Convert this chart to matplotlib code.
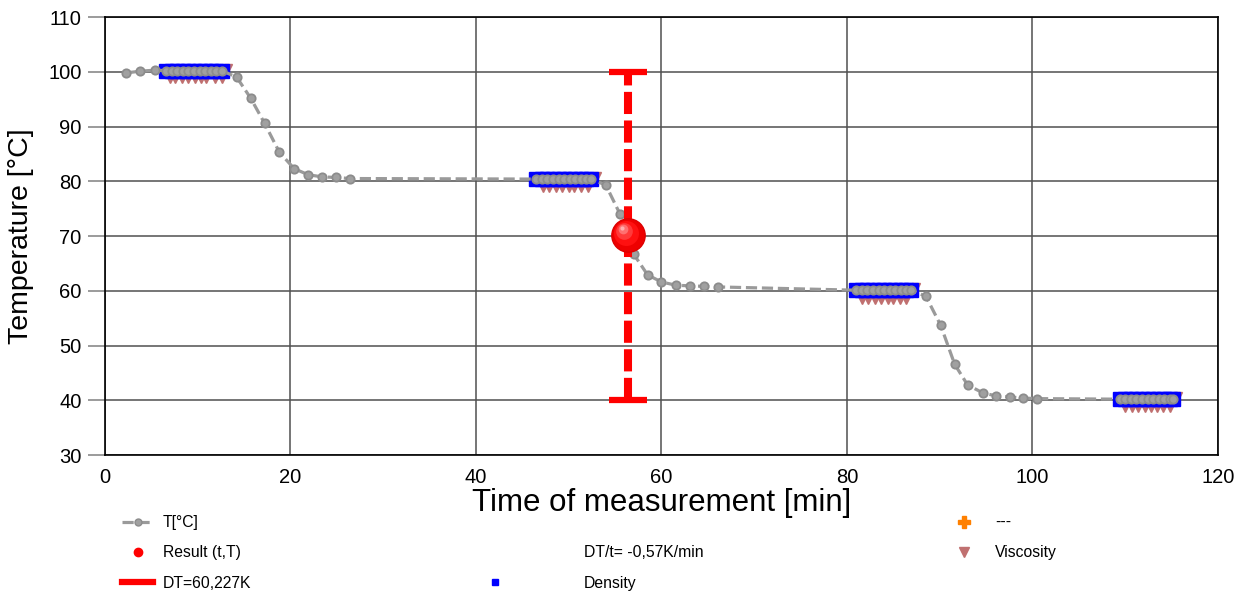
import matplotlib
matplotlib.use("Agg")
import matplotlib.pyplot as plt
from matplotlib.lines import Line2D
from matplotlib.transforms import offset_copy

plt.rcParams['font.family'] = ['Liberation Sans', 'DejaVu Sans']

# temperature curve (time in min, T in °C)
t_time = [2.3, 3.8, 5.4,
          6.6, 7.2, 7.8, 8.4, 9.0, 9.6, 10.2, 10.8, 11.4, 12.0, 12.6,
          14.2, 15.7, 17.2, 18.8, 20.4, 21.9, 23.4, 24.9, 26.4,
          46.5, 47.1, 47.7, 48.3, 48.9, 49.5, 50.1, 50.7, 51.3, 51.9, 52.4,
          54.0, 55.5, 57.0, 58.5, 60.0, 61.6, 63.1, 64.6, 66.1,
          81.0, 81.6, 82.2, 82.8, 83.4, 84.0, 84.6, 85.2, 85.8, 86.4, 86.9,
          88.5, 90.1, 91.6, 93.0, 94.7, 96.1, 97.6, 99.0, 100.5,
          109.4, 110.0, 110.6, 111.2, 111.8, 112.4, 113.0, 113.6, 114.2, 114.8, 115.2]
t_temp = [99.8, 100.1, 100.3,
          100.2, 100.2, 100.2, 100.2, 100.2, 100.2, 100.2, 100.2, 100.2, 100.2, 100.2,
          99.0, 95.2, 90.6, 85.3, 82.3, 81.2, 80.8, 80.7, 80.5,
          80.4, 80.4, 80.4, 80.4, 80.4, 80.4, 80.4, 80.4, 80.4, 80.4, 80.4,
          79.3, 74.1, 66.7, 62.9, 61.6, 61.0, 60.9, 60.8, 60.7,
          60.1, 60.1, 60.1, 60.1, 60.1, 60.1, 60.1, 60.1, 60.1, 60.1, 60.1,
          59.0, 53.7, 46.6, 42.8, 41.3, 40.8, 40.6, 40.4, 40.3,
          40.2, 40.2, 40.2, 40.2, 40.2, 40.2, 40.2, 40.2, 40.2, 40.2, 40.2]

# density points (plateaus)
dens_time = [6.6, 7.2, 7.8, 8.4, 9.0, 9.6, 10.2, 10.8, 11.4, 12.0, 12.6,
             46.5, 47.1, 47.7, 48.3, 48.9, 49.5, 50.1, 50.7, 51.3, 51.9, 52.4,
             81.0, 81.6, 82.2, 82.8, 83.4, 84.0, 84.6, 85.2, 85.8, 86.4, 86.9,
             109.4, 110.0, 110.6, 111.2, 111.8, 112.4, 113.0, 113.6, 114.2, 114.8, 115.2]
dens_temp = [100.2] * 11 + [80.4] * 11 + [60.1] * 11 + [40.2] * 11

# viscosity points
visc_time = [7.0, 7.6, 8.3, 8.9, 9.7, 10.3, 10.9, 11.9, 12.6, 13.3,
             47.2, 47.9, 48.6, 49.3, 50.0, 50.6, 51.3, 52.1, 53.0,
             81.6, 82.3, 83.0, 83.7, 84.4, 85.0, 85.7, 86.4, 87.4,
             110.0, 110.7, 111.4, 112.1, 112.8, 113.4, 114.1, 114.8, 115.7]
visc_temp = [98.6] * 9 + [100.6] + [78.7] * 8 + [80.9] + [58.4] * 8 + [60.6] + [38.5] * 8 + [40.7]

# result
res_t = 56.4
res_T = 70.2
dt_low = 40.0
dt_high = 100.0

fig = plt.figure(figsize=(12.44, 5.93), dpi=100)
ax = fig.add_axes([0.0844, 0.2327, 0.8947, 0.7386])

ax.set_xlim(0, 120)
ax.set_ylim(30, 110)
ax.set_xticks(range(0, 121, 20))
ax.set_yticks(range(30, 111, 10))
ax.grid(True, color='#505050', lw=1.1, zorder=0)
ax.set_axisbelow(True)
ax.tick_params(axis='y', length=12, width=1.1, color='#808080', pad=5, labelsize=14.5)
ax.tick_params(axis='x', length=0, pad=9, labelsize=14.5)
for s in ax.spines.values():
    s.set_color('black')
    s.set_linewidth(1.2)

ax.set_xlabel('Time of measurement [min]', fontsize=22.5, labelpad=1)
ax.set_ylabel('Temperature [°C]', fontsize=20.5, labelpad=10)

# viscosity (behind density)
ax.plot(visc_time, visc_temp, ls='none', marker='v', ms=6, color='#c07070', zorder=2)
# density
ax.plot(dens_time, dens_temp, ls='none', marker='s', ms=10.5, color='#0000ff', zorder=3)
# temperature
ax.plot(t_time, t_temp, color='#9a9a9a', lw=2.3, dashes=(3.5, 1.5), marker='o', ms=6,
        mfc='#a0a0a0', mec='#8c8c8c', mew=1.3, zorder=4)

# DT bar
ax.plot([res_t, res_t], [dt_low, dt_high], color='#ff0000', lw=5.8, dashes=(2.75, 0.8),
        solid_capstyle='butt', dash_capstyle='butt', zorder=5)
ax.plot([res_t - 2.05, res_t + 2.05], [dt_high, dt_high], color='#ff0000', lw=4.5,
        solid_capstyle='butt', zorder=5)
ax.plot([res_t - 2.05, res_t + 2.05], [dt_low, dt_low], color='#ff0000', lw=4.5,
        solid_capstyle='butt', zorder=5)

# shiny result ball
ax.plot(res_t, res_T, 'o', ms=24, color='#ee0000', mec='#dd0000', zorder=6)
for size, col, dx, dy in [(18, '#ff1010', -1.5, 1.5), (12, '#ff3a3a', -3, 3),
                          (7, '#ff7070', -4, 4.5), (3, '#ffb0b0', -4.5, 5)]:
    tr = offset_copy(ax.transData, fig=fig, x=dx, y=dy, units='points')
    ax.plot(res_t, res_T, 'o', ms=size, color=col, mec='none', transform=tr, zorder=7)

# legend, three loose columns
blank = Line2D([], [], ls='none', marker='none')
h_T = Line2D([], [], color='#9a9a9a', lw=2.3, dashes=(3.5, 1.5), marker='o', ms=5,
             mfc='#a0a0a0', mec='#8c8c8c')
h_res = Line2D([], [], ls='none', marker='o', ms=6, color='#ff0000')
h_dt = Line2D([], [], color='#ff0000', lw=4.5)
h_dens = Line2D([], [], ls='none', marker='s', ms=5, color='#0000ff')
h_plus = Line2D([], [], ls='none', marker='P', ms=8, color='#ff8000')
h_visc = Line2D([], [], ls='none', marker='v', ms=7, color='#c07070')

common = dict(frameon=False, fontsize=11.3, loc='upper left', borderpad=0,
              labelspacing=0.98, handlelength=2.0, borderaxespad=0)
anchor_y = 1 - 515 / 593
fig.legend([h_T, h_res, h_dt], ['T[°C]', 'Result (t,T)', 'DT=60,227K'],
           bbox_to_anchor=(122 / 1244, anchor_y), handletextpad=0.6, **common)
fig.legend([blank, blank, h_dens], [' ', 'DT/t= -0,57K/min', 'Density'],
           bbox_to_anchor=(479 / 1244, anchor_y), handletextpad=4.7, **common)
fig.legend([h_plus, h_visc, blank], ['---', 'Viscosity', ' '],
           bbox_to_anchor=(948 / 1244, anchor_y), handletextpad=1.0, **common)

fig.savefig('out.png', dpi=100)
